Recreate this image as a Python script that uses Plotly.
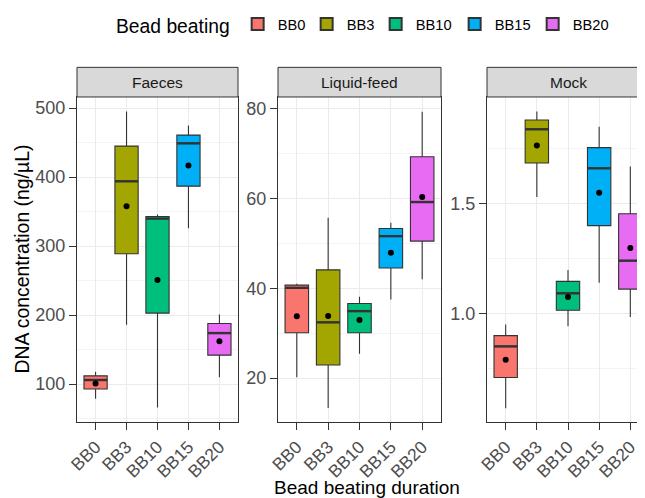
import plotly.graph_objects as go
from plotly.subplots import make_subplots

groups = ["BB0", "BB3", "BB10", "BB15", "BB20"]
colors = ["#F8766D", "#A3A500", "#00BF7D", "#00B0F6", "#E76BF3"]
facets = ["Faeces", "Liquid-feed", "Mock"]

# per facet: lists in group order
lowf = {
    "Faeces": [79, 186, 66, 326, 110],
    "Liquid-feed": [20.2, 13.3, 25.4, 37.5, 42.0],
    "Mock": [0.572, 1.530, 0.943, 1.141, 0.985],
}
q1 = {
    "Faeces": [93, 289, 203, 387, 142],
    "Liquid-feed": [30.1, 22.9, 30.1, 44.5, 50.5],
    "Mock": [0.711, 1.684, 1.016, 1.400, 1.112],
}
med = {
    "Faeces": [106, 394, 340, 449, 174],
    "Liquid-feed": [40.1, 32.4, 34.9, 51.6, 59.2],
    "Mock": [0.852, 1.837, 1.093, 1.660, 1.241],
}
q3 = {
    "Faeces": [112, 445, 343, 461, 188],
    "Liquid-feed": [40.7, 44.1, 36.6, 53.3, 69.3],
    "Mock": [0.901, 1.879, 1.147, 1.754, 1.454],
}
upf = {
    "Faeces": [118, 495, 346, 475, 201],
    "Liquid-feed": [41.0, 55.7, 38.1, 54.6, 79.3],
    "Mock": [0.951, 1.918, 1.199, 1.849, 1.668],
}
means = {
    "Faeces": [101, 358, 251, 417, 162],
    "Liquid-feed": [33.75, 33.8, 32.9, 47.9, 60.3],
    "Mock": [0.792, 1.763, 1.076, 1.549, 1.299],
}

yranges = {"Faeces": [45.1, 516.2], "Liquid-feed": [10.2, 82.6], "Mock": [0.509, 1.9835]}
ydticks = {"Faeces": 100, "Liquid-feed": 20, "Mock": 0.5}
yfmt = {"Faeces": "", "Liquid-feed": "", "Mock": ".1f"}

BOXW = 0.75
pos = list(range(len(groups)))
legend_w = [24, 24, 34, 33, 33]

W, H = 645, 498
# page has an 8px body margin; positions below are in figure pixels
px_x = [(69, 230), (270, 433), (479, 641)]
top_px, bot_px = 84, 413
strip_top = 54

fig = make_subplots(rows=1, cols=3)

FONT = "Liberation Sans, Arial, sans-serif"

for fi, f in enumerate(facets):
    for gi, g in enumerate(groups):
        fig.add_trace(
            go.Box(
                x=[pos[gi]], q1=[q1[f][gi]], median=[med[f][gi]], q3=[q3[f][gi]],
                lowerfence=[lowf[f][gi]], upperfence=[upf[f][gi]],
                name=g, legendgroup=g, showlegend=(fi == 0), legendwidth=legend_w[gi],
                fillcolor=colors[gi], line=dict(color="#333333", width=1.1),
                width=BOXW, whiskerwidth=0, boxpoints=False,
            ),
            row=1, col=fi + 1,
        )
        # thicker median bar, as in ggplot
        fig.add_trace(
            go.Scatter(
                x=[pos[gi] - BOXW / 2, pos[gi] + BOXW / 2], y=[med[f][gi], med[f][gi]],
                mode="lines", line=dict(color="#333333", width=2.4),
                showlegend=False, hoverinfo="skip",
            ),
            row=1, col=fi + 1,
        )
    fig.add_trace(
        go.Scatter(
            x=pos, y=means[f], mode="markers",
            marker=dict(color="black", size=6), showlegend=False, hoverinfo="skip",
        ),
        row=1, col=fi + 1,
    )

shapes = []
annotations = []
for fi, f in enumerate(facets):
    x0, x1 = px_x[fi]
    dom = [x0 / W, min(x1 / W, 1.0)]
    fig.update_xaxes(
        domain=dom, row=1, col=fi + 1,
        tickmode="array", tickvals=pos, ticktext=groups, range=[-0.6, 4.6],
        showgrid=True, gridcolor="#EBEBEB", gridwidth=1,
        showline=True, mirror=True, linecolor="#333333", linewidth=1,
        ticks="outside", ticklen=7, tickcolor="#333333", tickwidth=1,
        tickangle=-45, tickfont=dict(family=FONT, size=17.5, color="#4D4D4D"),
        zeroline=False, automargin=False,
    )
    fig.update_yaxes(
        domain=[1 - bot_px / H, 1 - top_px / H], row=1, col=fi + 1,
        range=yranges[f], dtick=ydticks[f], tickformat=yfmt[f],
        showgrid=True, gridcolor="#EBEBEB", gridwidth=1,
        minor=dict(dtick=ydticks[f] / 2, showgrid=True, gridcolor="#F3F3F3", gridwidth=1),
        showline=True, mirror=True, linecolor="#333333", linewidth=1,
        ticks="outside", ticklen=7, tickcolor="#333333", tickwidth=1,
        tickfont=dict(family=FONT, size=18, color="#4D4D4D"),
        zeroline=False, automargin=False,
    )
    shapes.append(dict(
        type="rect", xref="paper", yref="paper",
        x0=x0 / W, x1=min(x1 / W, 1.0), y0=1 - top_px / H, y1=1 - strip_top / H,
        fillcolor="#D9D9D9", line=dict(color="#333333", width=1), layer="above",
    ))
    annotations.append(dict(
        text=f, xref="paper", yref="paper", x=(x0 + x1) / 2 / W,
        y=1 - (top_px + strip_top) / 2 / H, showarrow=False,
        xanchor="center", yanchor="middle",
        font=dict(family=FONT, size=15.5, color="#1A1A1A"),
    ))

annotations.append(dict(
    text="DNA concentration (ng/µL)", xref="paper", yref="paper",
    x=14 / W, y=1 - 248.5 / H, textangle=-90, showarrow=False,
    xanchor="center", yanchor="middle", font=dict(family=FONT, size=19.4, color="black"),
))
annotations.append(dict(
    text="Bead beating duration", xref="paper", yref="paper",
    x=359 / W, y=1 - 479 / H, showarrow=False,
    xanchor="center", yanchor="middle", font=dict(family=FONT, size=19, color="black"),
))

fig.update_layout(
    width=W, height=H, margin=dict(l=0, r=0, t=0, b=0),
    paper_bgcolor="white", plot_bgcolor="white",
    boxmode="overlay", shapes=shapes, annotations=annotations,
    legend=dict(
        orientation="h", x=106 / W, y=1 - 12 / H, xanchor="left", yanchor="middle",
        title=dict(text="Bead beating", side="left", font=dict(family=FONT, size=19.3, color="black")),
        font=dict(family=FONT, size=14.7, color="black"),
        itemsizing="constant",
    ),
)

fig.write_html("out.html")
